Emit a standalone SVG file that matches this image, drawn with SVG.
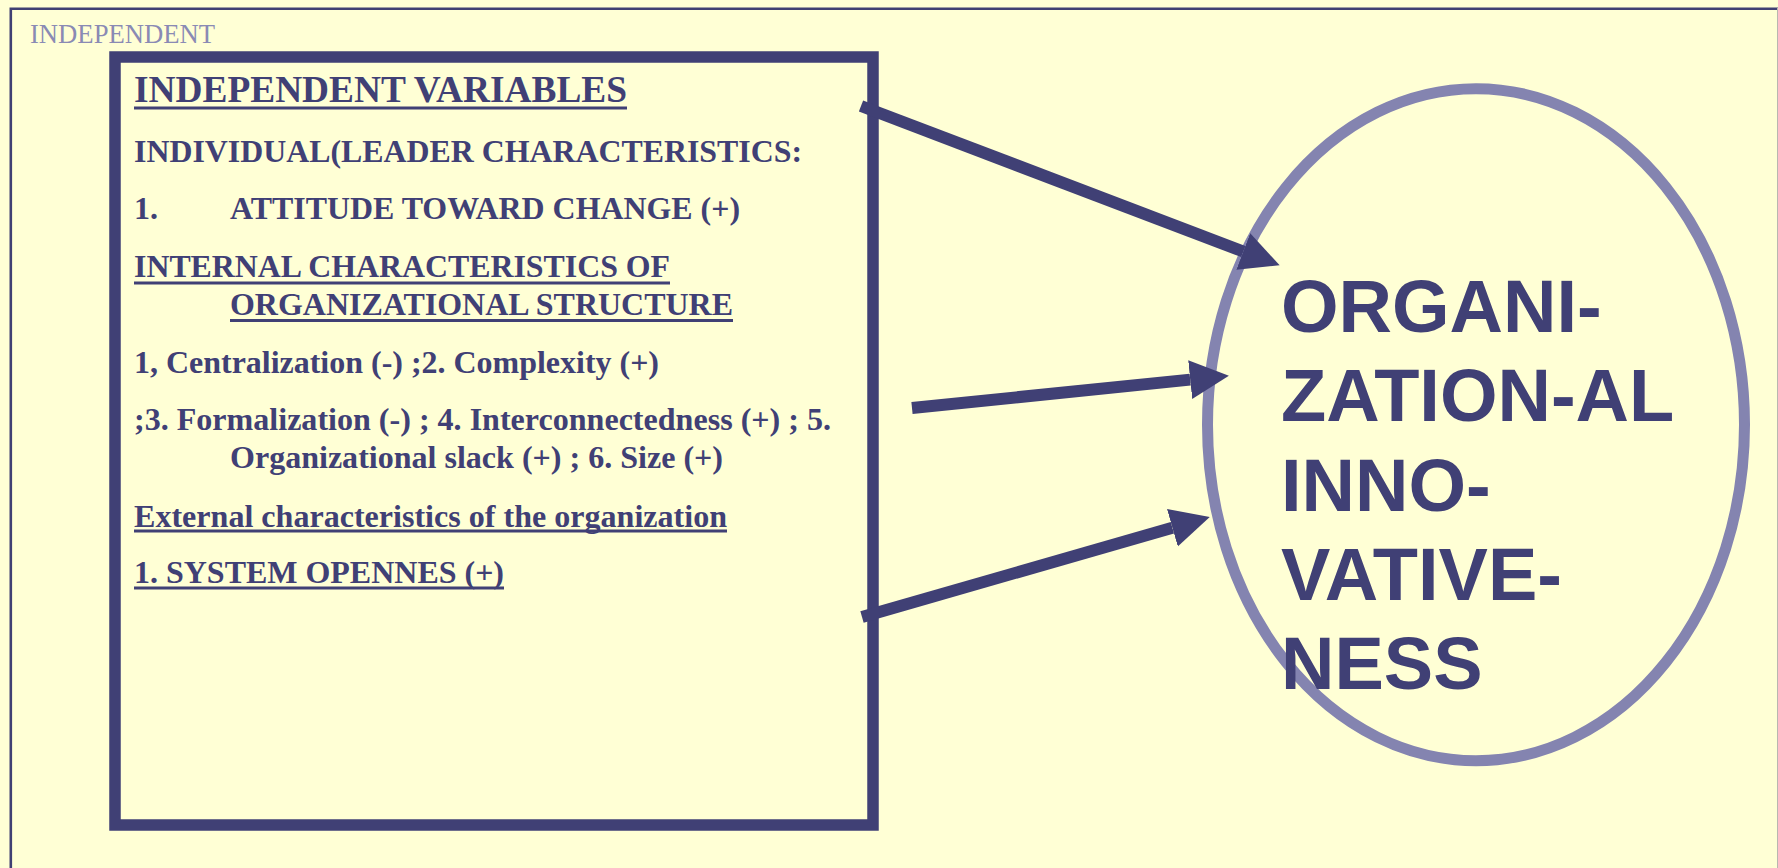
<svg xmlns="http://www.w3.org/2000/svg" width="1778" height="868" viewBox="0 0 1778 868">
<defs>
<style>
.bg{fill:#FFFFD5}
.frame{stroke:#404073;stroke-width:2.6;fill:none}
.lbl{font-family:"Liberation Serif","Times New Roman",serif;font-size:26.5px;fill:#8A8AB4}
.t{font-family:"Liberation Serif","Times New Roman",serif;font-weight:bold;font-size:32px;fill:#404075}
.t36{font-size:37px}
.ul{stroke:#404075;stroke-width:2.8}
.box{fill:none;stroke:#404075;stroke-width:11.5}
.ell{fill:none;stroke:#8484B0;stroke-width:11}
.big{font-family:"Liberation Sans",Arial,sans-serif;font-weight:bold;font-size:74px;fill:#404075}
.arrow{stroke:#404075;stroke-width:12;fill:none;marker-end:url(#head)}
</style>
<marker id="head" markerUnits="userSpaceOnUse" markerWidth="40" markerHeight="40" refX="0" refY="17.5" orient="auto" viewBox="0 0 36 35">
<path d="M0,0 L35,17.5 L0,35 Z" fill="#404075"/>
</marker>
</defs>
<rect class="bg" x="0" y="0" width="1778" height="868"/>
<g id="frame">
<path class="frame" d="M10.8,868 V8.8 H1778"/>
<line x1="1777.5" y1="8" x2="1777.5" y2="868" stroke="#B8B8B0" stroke-width="1"/>
<text class="lbl" x="30" y="43" textLength="185" lengthAdjust="spacingAndGlyphs">INDEPENDENT</text>
</g>
<g id="independent-variables">
<rect class="box" x="115" y="57" width="758" height="768"/>
<text class="t t36" x="134" y="102" textLength="493" lengthAdjust="spacingAndGlyphs">INDEPENDENT VARIABLES</text>
<line class="ul" x1="134" y1="108" x2="627" y2="108"/>
<text class="t" x="134" y="162" textLength="668" lengthAdjust="spacingAndGlyphs">INDIVIDUAL(LEADER CHARACTERISTICS:</text>
<text class="t" x="134" y="219">1.</text>
<text class="t" x="230" y="219" textLength="510" lengthAdjust="spacingAndGlyphs">ATTITUDE TOWARD CHANGE (+)</text>
<text class="t" x="134" y="277" textLength="536" lengthAdjust="spacingAndGlyphs">INTERNAL CHARACTERISTICS OF</text>
<line class="ul" x1="134" y1="283" x2="670" y2="283"/>
<text class="t" x="230" y="315" textLength="503" lengthAdjust="spacingAndGlyphs">ORGANIZATIONAL STRUCTURE</text>
<line class="ul" x1="230" y1="320.5" x2="733" y2="320.5"/>
<text class="t" x="134" y="373" textLength="525" lengthAdjust="spacingAndGlyphs">1, Centralization (-) ;2. Complexity (+)</text>
<text class="t" x="134" y="430" textLength="697" lengthAdjust="spacingAndGlyphs">;3. Formalization (-) ; 4. Interconnectedness (+) ; 5.</text>
<text class="t" x="230" y="468" textLength="493" lengthAdjust="spacingAndGlyphs">Organizational slack (+) ; 6. Size (+)</text>
<text class="t" x="134" y="527" textLength="593" lengthAdjust="spacingAndGlyphs">External characteristics of the organization</text>
<line class="ul" x1="134" y1="531" x2="727" y2="531"/>
<text class="t" x="134" y="583" textLength="370" lengthAdjust="spacingAndGlyphs">1. SYSTEM OPENNES (+)</text>
<line class="ul" x1="134" y1="588" x2="504" y2="588"/>
</g>
<g id="innovativeness">
<ellipse class="ell" cx="1476" cy="424.7" rx="268.5" ry="336"/>
<text class="big" x="1281" y="332">ORGANI-</text>
<text class="big" x="1281" y="421">ZATION-AL</text>
<text class="big" x="1281" y="511">INNO-</text>
<text class="big" x="1281" y="600">VATIVE-</text>
<text class="big" x="1281" y="689">NESS</text>
</g>
<g id="connectors">
<line class="arrow" x1="861" y1="106" x2="1243.3" y2="251.5"/>
<line class="arrow" x1="912" y1="408" x2="1190.2" y2="379.6"/>
<line class="arrow" x1="862" y1="617" x2="1172.4" y2="527.7"/>
</g>
</svg>
